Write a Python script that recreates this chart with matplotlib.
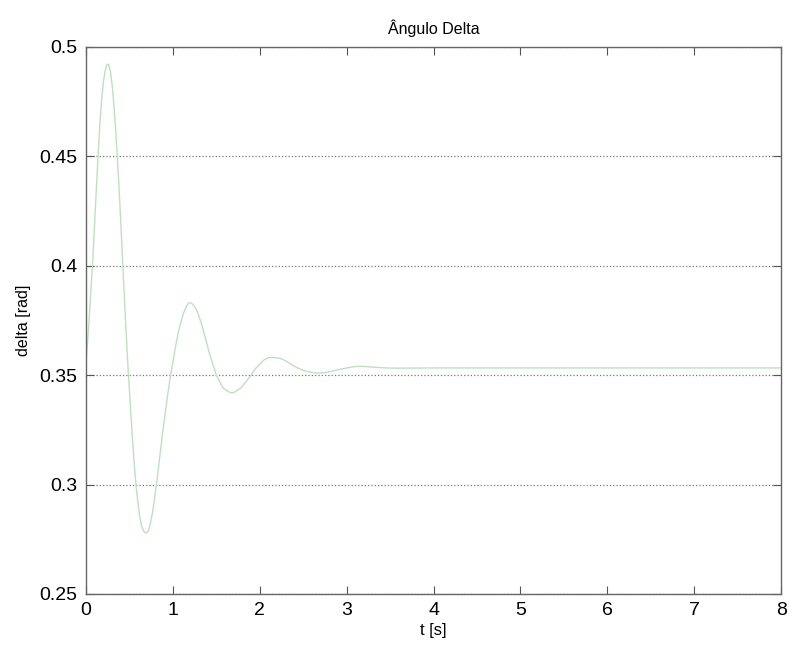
import numpy as np
import matplotlib
matplotlib.use('Agg')
import matplotlib.pyplot as plt

plt.rcParams['font.family'] = ['Liberation Sans', 'DejaVu Sans']

# valores (t [s], delta [rad])
t = [0.00, 0.02, 0.04, 0.06, 0.08, 0.10, 0.12, 0.14, 0.16, 0.18,
     0.20, 0.22, 0.24, 0.26, 0.28, 0.30, 0.32, 0.34, 0.36, 0.38,
     0.40, 0.42, 0.44, 0.46, 0.48, 0.50, 0.52, 0.54, 0.56, 0.58,
     0.60, 0.62, 0.64, 0.66, 0.68, 0.70, 0.72, 0.74, 0.76, 0.78,
     0.80, 0.82, 0.85, 0.88, 0.91, 0.94, 0.97, 1.00, 1.03, 1.06,
     1.09, 1.12, 1.15, 1.18, 1.21, 1.24, 1.27, 1.30, 1.34, 1.38,
     1.42, 1.46, 1.50, 1.54, 1.58, 1.62, 1.66, 1.70, 1.74, 1.78,
     1.82, 1.86, 1.90, 1.95, 2.00, 2.05, 2.10, 2.18, 2.25, 2.32,
     2.40, 2.48, 2.56, 2.64, 2.72, 2.80, 2.90, 3.00, 3.10, 3.20,
     3.30, 3.45, 3.60, 4.00, 8.00]
delta = [0.356, 0.366, 0.378, 0.391, 0.404, 0.420, 0.436, 0.451, 0.465, 0.476,
         0.484, 0.489, 0.492, 0.492, 0.489, 0.483, 0.474, 0.463, 0.450, 0.436,
         0.420, 0.403, 0.387, 0.371, 0.356, 0.343, 0.330, 0.318, 0.307, 0.298,
         0.291, 0.285, 0.281, 0.279, 0.278, 0.278, 0.279, 0.282, 0.286, 0.291,
         0.297, 0.303, 0.313, 0.323, 0.332, 0.341, 0.349, 0.356, 0.363, 0.369,
         0.374, 0.378, 0.381, 0.383, 0.383, 0.382, 0.380, 0.377, 0.372, 0.366,
         0.360, 0.355, 0.350, 0.347, 0.344, 0.343, 0.342, 0.342, 0.343, 0.344,
         0.346, 0.348, 0.350, 0.353, 0.355, 0.357, 0.358, 0.358, 0.3575, 0.356,
         0.354, 0.3525, 0.3515, 0.351, 0.351, 0.3515, 0.3525, 0.3533, 0.354, 0.354,
         0.3537, 0.3533, 0.3532, 0.3533, 0.3533]

xticks = [0, 1, 2, 3, 4, 5, 6, 7, 8]
yticks = [0.25, 0.3, 0.35, 0.4, 0.45, 0.5]
yticklabels = ['0.25', '0.3', '0.35', '0.4', '0.45', '0.5']

fig = plt.figure(figsize=(7.89, 6.52), dpi=100)
ax = fig.add_axes([0.109, 0.089, 0.881, 0.839])

ax.plot(t, delta, color='#bfe0bf', lw=1.0)

ax.set_xlim(0, 8)
ax.set_ylim(0.25, 0.5)
ax.set_xticks(xticks)
ax.set_yticks(yticks)
ax.set_yticklabels(yticklabels)
ax.yaxis.grid(True, linestyle=':', color='#777777', lw=0.9)

ax.tick_params(direction='in', top=True, right=True, length=6,
               labelsize=14, color='#555555', pad=6)
for s in ax.spines.values():
    s.set_color('#666666')
    s.set_linewidth(1.0)

ax.set_title('Ângulo Delta', fontsize=11.5, pad=9)
ax.set_xlabel('t [s]', fontsize=12, labelpad=3)
ax.set_ylabel('delta [rad]', fontsize=11.5, labelpad=6)

fig.savefig('out.png', dpi=100)
